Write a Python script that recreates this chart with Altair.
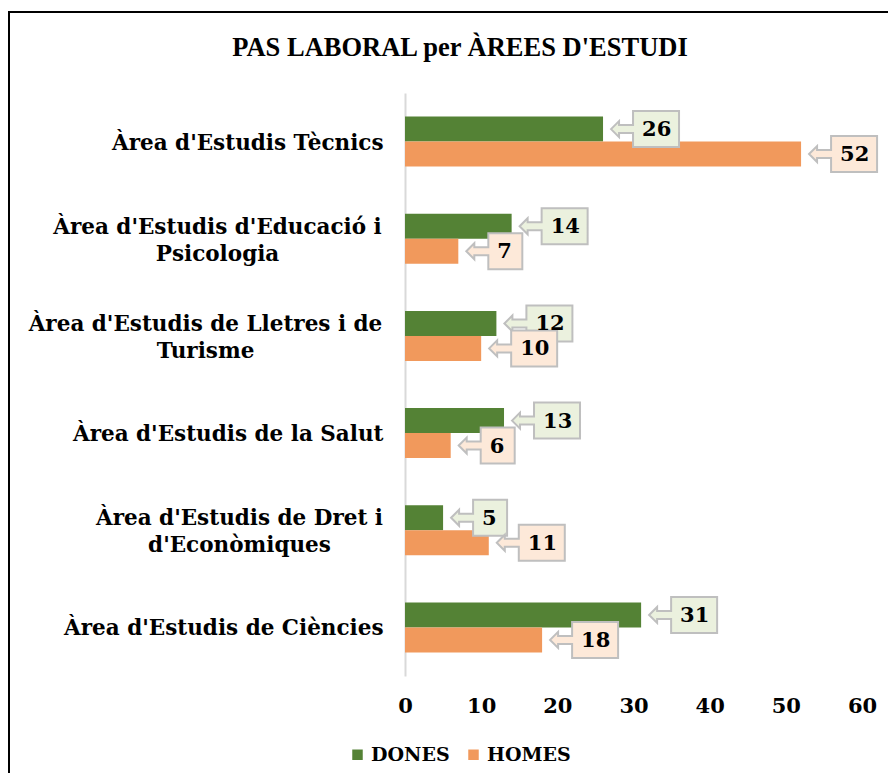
import altair as alt
import pandas as pd

# ---- data ----
areas = [
    "Àrea d'Estudis Tècnics",
    "Àrea d'Estudis d'Educació i Psicologia",
    "Àrea d'Estudis de Lletres i de Turisme",
    "Àrea d'Estudis de la Salut",
    "Àrea d'Estudis de Dret i d'Econòmiques",
    "Àrea d'Estudis de Ciències",
]
dones = [26, 14, 12, 13, 5, 31]
homes = [52, 7, 10, 6, 11, 18]
series = ["DONES", "HOMES"]
x_ticks = [0, 10, 20, 30, 40, 50, 60]
title_text = "PAS LABORAL per ÀREES D'ESTUDI"

# line breaks used for the category labels (two-line labels are centred)
wrap = {
    "Àrea d'Estudis d'Educació i Psicologia": ["Àrea d'Estudis d'Educació i", "Psicologia"],
    "Àrea d'Estudis de Lletres i de Turisme": ["Àrea d'Estudis de Lletres i de", "Turisme"],
    "Àrea d'Estudis de Dret i d'Econòmiques": ["Àrea d'Estudis de Dret i", "d'Econòmiques"],
}
# label anchor distance from the axis for centred two-line labels (style)
wrap_pad = {
    "Àrea d'Estudis d'Educació i Psicologia": 188,
    "Àrea d'Estudis de Lletres i de Turisme": 200,
    "Àrea d'Estudis de Dret i d'Econòmiques": 166,
}

rows = []
for a, d, h in zip(areas, dones, homes):
    rows.append({"Area": a, "Sexe": "DONES", "Valor": d})
    rows.append({"Area": a, "Sexe": "HOMES", "Valor": h})
df = pd.DataFrame(rows)
df["ndig"] = df["Valor"].astype(str).str.len().astype(str)

# ---- styling ----
GREEN = "#548235"
ORANGE = "#F1995C"
GREEN_L = "#EBF1DE"
ORANGE_L = "#FDE9D9"
FONT = "DejaVu Serif"
FS = 21.5

W, H = 457, 583
PAD_L, PAD_T, PAD_R, PAD_B = 397, 85, 26, 97

# callout shapes (pixel units with size=4): arrow tip, shaft, box
def callout(box_w):
    r = 30 + box_w
    return (f"M8,0 L16,-8 L16,-4 L30,-4 L30,-18 L{r},-18 L{r},18 "
            f"L30,18 L30,4 L16,4 L16,8 Z")

path1 = callout(34)
path2 = callout(46)

# label expression with line breaks
expr = "datum.label"
for k, (l1, l2) in wrap.items():
    expr = f'datum.label == "{k}" ? ["{l1}", "{l2}"] : ({expr})'

align_cond = {
    "condition": [{"test": f'datum.value == "{k}"', "value": "center"} for k in wrap],
    "value": "right",
}
pad_cond = {
    "condition": [{"test": f'datum.value == "{k}"', "value": v} for k, v in wrap_pad.items()],
    "value": 22,
}
offset_cond = {
    "condition": [{"test": f'datum.value == "{k}"', "value": -11} for k in wrap],
    "value": 2,
}

y_enc = alt.Y(
    "Area:N",
    sort=areas,
    scale=alt.Scale(paddingInner=0.486, paddingOuter=0.243),
    axis=alt.Axis(
        title=None, ticks=False, domainColor="#D9D9D9", domainWidth=2,
        labelPadding=pad_cond, labelAlign=align_cond, labelOffset=offset_cond,
        labelFont=FONT, labelFontSize=FS, labelFontWeight="bold",
        labelColor="black", labelLimit=600, labelLineHeight=27, labelExpr=expr,
    ),
)
x_enc = alt.X(
    "Valor:Q",
    scale=alt.Scale(domain=[0, 60], nice=False),
    axis=alt.Axis(
        title=None, values=x_ticks, ticks=False, domain=False, grid=False,
        labelFlush=False, labelPadding=19, labelFont=FONT, labelFontSize=21,
        labelFontWeight="bold", labelColor="black",
    ),
)
yoff = alt.YOffset("Sexe:N", sort=series, scale=alt.Scale(paddingInner=0, paddingOuter=0))

base = alt.Chart(df)

bars = base.mark_bar().encode(
    x=x_enc,
    y=y_enc,
    yOffset=yoff,
    color=alt.Color(
        "Sexe:N",
        scale=alt.Scale(domain=series, range=[GREEN, ORANGE]),
        legend=alt.Legend(
            title=None, orient="none", direction="horizontal",
            legendX=-57, legendY=652, symbolType="square", symbolSize=110,
            labelFont=FONT, labelFontSize=19, labelFontWeight="bold",
            labelColor="black", columnPadding=14, labelOffset=4,
            symbolStrokeWidth=0,
        ),
    ),
)

boxes = base.mark_point(
    filled=True, size=4, opacity=1, stroke="#BFBFBF", strokeWidth=2
).encode(
    x="Valor:Q",
    y=alt.Y("Area:N", sort=areas),
    yOffset=alt.YOffset("Sexe:N", sort=series),
    shape=alt.Shape("ndig:N", scale=alt.Scale(domain=["1", "2"], range=[path1, path2]), legend=None),
    fill=alt.Fill("Sexe:N", scale=alt.Scale(domain=series, range=[GREEN_L, ORANGE_L]), legend=None),
)

labels = base.mark_text(
    align="left", baseline="middle", dx=39, dy=1,
    font=FONT, fontSize=21, fontWeight="bold", color="black",
).encode(
    x="Valor:Q",
    y=alt.Y("Area:N", sort=areas),
    yOffset=alt.YOffset("Sexe:N", sort=series),
    text="Valor:Q",
)

border = alt.Chart(alt.Data(values=[{}])).mark_rect(
    fill=None, stroke="black", strokeWidth=2
).encode(
    x=alt.value(-396), x2=alt.value(W + 60),
    y=alt.value(-81), y2=alt.value(H + 140),
)

title = alt.Chart(alt.Data(values=[{"t": title_text}])).mark_text(
    align="center", baseline="middle", font="Liberation Serif", fontSize=26.5,
    fontWeight="bold", color="black",
).encode(
    x=alt.value(55), y=alt.value(-45), text="t:N",
)

chart = alt.layer(border, title, bars, boxes, labels).properties(
    width=W,
    height=H,
    padding={"left": PAD_L, "top": PAD_T, "right": PAD_R, "bottom": PAD_B},
    autosize=alt.AutoSizeParams(type="none"),
).configure_view(stroke=None)

chart.save("out.html", embed_options={"renderer": "svg", "actions": False})
